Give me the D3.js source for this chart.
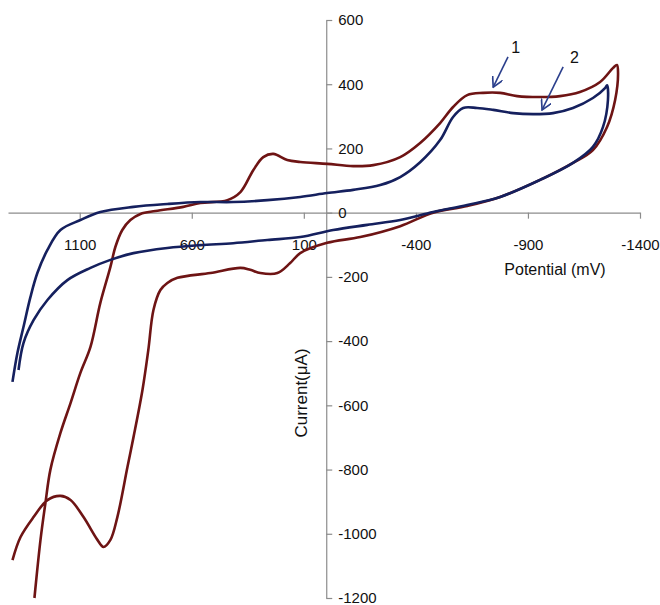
<!DOCTYPE html>
<html>
<head>
<meta charset="utf-8">
<script src="https://cdn.jsdelivr.net/npm/d3@7"></script>
<style>
  body { margin: 0; background: #fff; }
  text { font-family: "Liberation Sans", Arial, sans-serif; }
</style>
</head>
<body>
<div id="chart"></div>
<script>
// curve 1 (brown): potential in mV, current in uA, in scan order
const potential1 = [1400, 1364, 1306, 1244, 1186, 1141, 1083, 1021, 994, 963, 932, 887, 860, 820, 794, 771, 740, 709, 664, 517, 383, 339, 294, 218, 161, 116, -4, -152, -330, -477, -629, -776, -954, -1101, -1190, -1253, -1289, -1302, -1297,
    -1280, -1222, -1132, -1043, -954, -852, -776, -700, -629, -566, -508, -419, -330, -210, -120, -4, 116, 174, 236, 281, 325, 383, 441, 562, 638, 762, 829, 874, 910, 941, 963, 1008, 1052, 1097, 1141, 1186, 1231, 1253, 1275, 1302];
const current1 = [-1082, -1010, -948, -895, -882, -895, -948, -1019, -1041, -1019, -948, -792, -699, -552, -428, -303, -241, -219, -203, -188, -172, -178, -188, -188, -157, -126, -94, -76, -42, 0, 21, 49, 102, 155, 195, 267, 351, 435, 460,
    451, 407, 376, 363, 360, 363, 373, 373, 366, 329, 279, 217, 173, 148, 145, 152, 158, 164, 183, 173, 133, 64, 39, 30, 18, 5, -4, -23, -54, -107, -169, -281, -418, -499, -593, -686, -801, -904, -1019, -1200];

// curve 2 (navy)
const potential2 = [1400, 1378, 1351, 1320, 1289, 1244, 1186, 1097, 1008, 860, 709, 562, 415, 263, 116, -4, -120, -241, -330, -419, -508, -566, -611, -673, -745, -834, -923, -1012, -1101, -1190, -1244, -1253,
    -1257, -1235, -1190, -1101, -954, -776, -629, -477, -330, -183, -31, 116, 263, 415, 562, 709, 860, 963, 1052, 1155, 1244, 1306, 1351, 1373];
const current2 = [-527, -437, -356, -263, -188, -116, -54, -23, 2, 18, 27, 33, 33, 39, 49, 61, 71, 86, 111, 157, 226, 298, 326, 326, 320, 310, 307, 310, 326, 357, 388, 397,
    351, 267, 205, 155, 102, 49, 24, 2, -23, -38, -54, -76, -85, -95, -101, -110, -126, -147, -172, -210, -272, -335, -406, -490];

const xTicks = [1100, 600, 100, -400, -900, -1400];
const yTicks = [600, 400, 200, 0, -200, -400, -600, -800, -1000, -1200];

const curves = [
    {name: "1", xs: potential1, ys: current1, color: "#6e1414"},
    {name: "2", xs: potential2, ys: current2, color: "#15205e"}
];
// arrow annotations, in data units
const arrows = [
    {label: "1", from: [-811, 485], to: [-745, 391], text: [-845, 516]},
    {label: "2", from: [-1057, 454], to: [-963, 320], text: [-1108, 482]}
];

const width = 660, height = 605;

let svg = d3.select("#chart").append("svg")
    .attr("width", width).attr("height", height)
    .attr("viewBox", [0, 0, width, height]);

// reversed potential axis
let x = d3.scaleLinear().domain([1420, -1400]).range([8, 640]);
let y = d3.scaleLinear().domain([600, -1200]).range([20, 598]);

const fmt = d => String(d); // plain hyphen minus, no thousands comma

const xAxis = g => g
    .attr("transform", `translate(0, ${y(0)})`)
    .call(d3.axisBottom(x).tickValues(xTicks).tickFormat(fmt).tickSize(6).tickSizeOuter(0))
    .call(g => g.selectAll("text").attr("y", 32).attr("dy", "0.35em"));

const yAxis = g => g
    .attr("transform", `translate(${x(0)}, 0)`)
    .call(d3.axisRight(y).tickValues(yTicks).tickFormat(fmt).tickSize(6).tickSizeOuter(0).tickPadding(6));

svg.append("g").call(xAxis);
svg.append("g").call(yAxis);

svg.selectAll(".domain, .tick line").attr("stroke", "#8c8c8c").attr("stroke-width", 1.2);
svg.selectAll(".tick text").attr("font-size", 15).attr("fill", "#111");

// axis titles
svg.append("text")
    .attr("x", 555).attr("y", 275)
    .attr("text-anchor", "middle")
    .attr("font-size", 16)
    .attr("fill", "#111")
    .text("Potential (mV)");

svg.append("text")
    .attr("transform", "translate(307, 393) rotate(-90)")
    .attr("text-anchor", "middle")
    .attr("font-size", 17)
    .attr("fill", "#111")
    .text("Current(μA)");

// curves
const line = d3.line()
    .x(d => x(d[0]))
    .y(d => y(d[1]))
    .curve(d3.curveCatmullRom.alpha(0.5));

svg.selectAll(".curve")
    .data(curves)
    .join("path")
    .attr("class", "curve")
    .attr("fill", "none")
    .attr("stroke", d => d.color)
    .attr("stroke-width", 2.6)
    .attr("stroke-linejoin", "round")
    .attr("d", d => line(d.xs.map((v, i) => [v, d.ys[i]])));

// arrows
svg.append("defs").append("marker")
    .attr("id", "head")
    .attr("viewBox", "0 0 10 10")
    .attr("refX", 9).attr("refY", 5)
    .attr("markerWidth", 7).attr("markerHeight", 7)
    .attr("orient", "auto")
    .append("path")
    .attr("d", "M0,0 L9,5 L0,10")
    .attr("fill", "none")
    .attr("stroke", "#2b3f8c")
    .attr("stroke-width", 1.5);

svg.selectAll(".arrow")
    .data(arrows)
    .join("line")
    .attr("class", "arrow")
    .attr("x1", d => x(d.from[0])).attr("y1", d => y(d.from[1]))
    .attr("x2", d => x(d.to[0])).attr("y2", d => y(d.to[1]))
    .attr("stroke", "#2b3f8c")
    .attr("stroke-width", 1.6)
    .attr("marker-end", "url(#head)");

svg.selectAll(".arrow-label")
    .data(arrows)
    .join("text")
    .attr("class", "arrow-label")
    .attr("x", d => x(d.text[0])).attr("y", d => y(d.text[1]))
    .attr("text-anchor", "middle")
    .attr("dy", "0.35em")
    .attr("font-size", 16)
    .attr("fill", "#111")
    .text(d => d.label);
</script>
</body>
</html>
